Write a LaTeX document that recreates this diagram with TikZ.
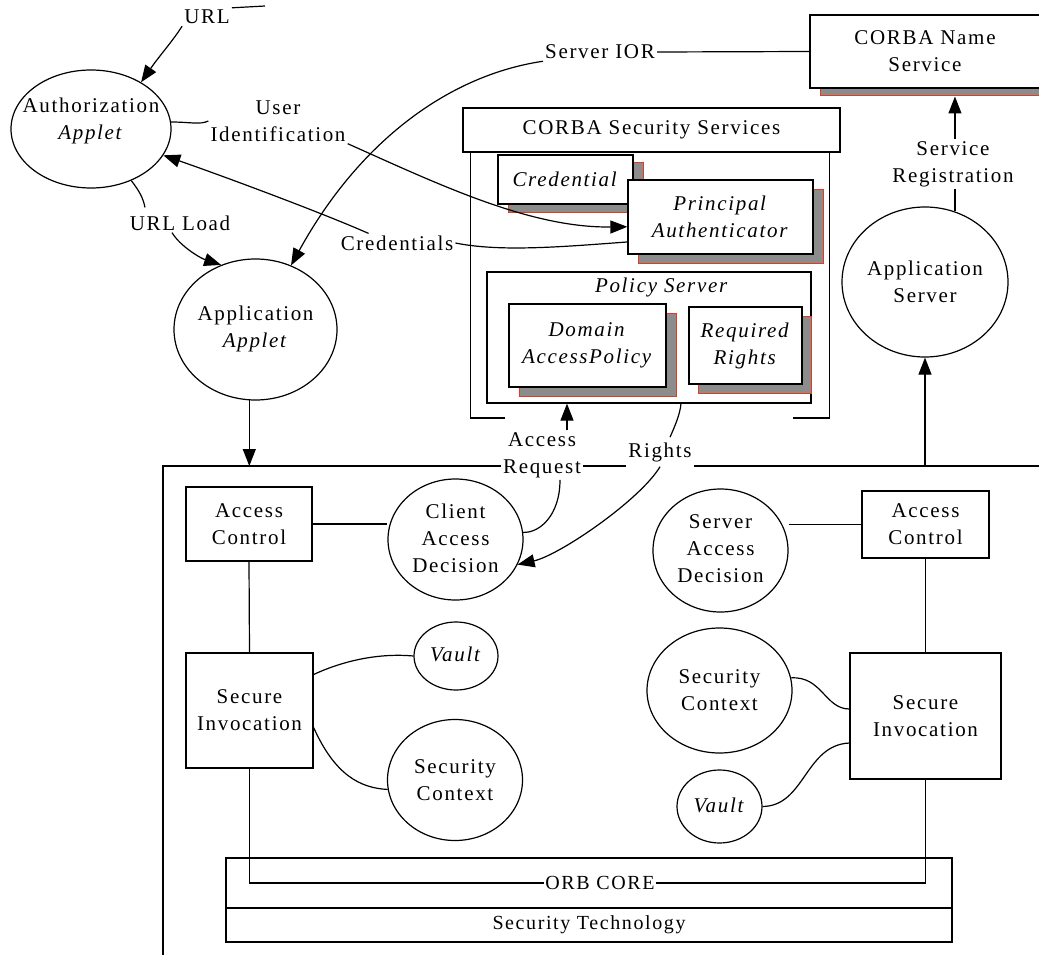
\documentclass[tikz,border=0pt]{standalone}
\usepackage{fontspec}
\setmainfont{Liberation Serif}[LetterSpace=8]
\usetikzlibrary{shapes.geometric,arrows.meta,calc}
\definecolor{shgray}{RGB}{140,140,140}
\definecolor{shred}{RGB}{225,60,30}
\tikzset{
  every node/.style={font=\fontsize{21}{27}\selectfont},
  lbl/.style={inner sep=2pt, align=center},
  wlbl/.style={lbl, fill=white},
  box/.style={draw, line width=1.2pt, fill=white, inner sep=0pt, align=center},
  shd/.style={fill=shgray, draw=shred, line width=1pt, inner sep=0pt},
  ell/.style={draw, ellipse, line width=1.2pt, inner sep=0pt},
  conn/.style={line width=1.2pt},
  arr/.style={conn, -{Triangle[length=17pt,width=13pt]}},
}
\begin{document}
\begin{tikzpicture}[x=1pt,y=-1pt]
\useasboundingbox (0,0) rectangle (1039,955);
\clip (0,0) rectangle (1039,955);

% outer frame
\coordinate (ftl) at (163,466);
\coordinate (ftr) at (1045,466);
\coordinate (fbl) at (163,962);
\draw[conn] (ftr) -- (ftl) -- (fbl);

% CORBA Name Service
\node[shd, minimum width=230pt, minimum height=73pt] (nssh) at (935,59.5) {};
\node[box, minimum width=230pt, minimum height=73pt] (ns) at (925,51.5) {CORBA Name\\Service};

% CORBA Security Services
\node[box, minimum width=377pt, minimum height=44pt] (css) at (651.5,130) {CORBA Security Services};
\coordinate (cfl) at (505,418);
\coordinate (cfr) at (793,418);
\draw[conn] (cfl) -| ($(css.south west)+(8,0)$);
\draw[conn] (cfr) -| ($(css.south east)+(-11,0)$);

\node[shd, minimum width=135pt, minimum height=49pt] (credsh) at (575.5,187.5) {};
\node[box, minimum width=135pt, minimum height=49pt] (credb) at (565.5,179.5) {\textit{Credential}};
\node[shd, minimum width=185pt, minimum height=74pt] (pash) at (730.5,226) {};
\node[box, minimum width=185pt, minimum height=74pt] (pa) at (720.5,217) {\textit{Principal}\\\textit{Authenticator}};

\node[box, minimum width=324pt, minimum height=131pt] (ps) at (649,337.5) {};
\node[lbl] (pst) at (662,287) {\textit{Policy Server}};
\node[shd, minimum width=157pt, minimum height=83pt] (dapsh) at (597.5,354.5) {};
\node[box, minimum width=157pt, minimum height=83pt] (dap) at (587.5,345.5) {\textit{Domain}\\\textit{AccessPolicy}};
\node[shd, minimum width=113pt, minimum height=77pt] (rrsh) at (754.5,354.5) {};
\node[box, minimum width=113pt, minimum height=77pt] (rr) at (745.5,345.5) {\textit{Required}\\\textit{Rights}};

% ellipses
\node[ell, minimum width=160pt, minimum height=118pt] (auth) at (91,129) {};
\node[lbl] (autht) at (91,121) {Authorization\\\textit{Applet}};
\node[ell, minimum width=163pt, minimum height=141pt] (aa) at (255.5,329.5) {};
\node[lbl] (aat) at (255.5,329) {Application\\\textit{Applet}};
\node[ell, minimum width=166pt, minimum height=150pt] (as) at (925,282) {};
\node[lbl] (ast) at (925,282) {Application\\Server};
\node[ell, minimum width=135pt, minimum height=121pt] (cad) at (455.5,539.5) {};
\node[lbl] (cadt) at (455.5,538) {Client\\Access\\Decision};
\node[ell, minimum width=135pt, minimum height=123pt] (sad) at (720.5,550.5) {};
\node[lbl] (sadt) at (720.5,549) {Server\\Access\\Decision};
\node[ell, minimum width=84pt, minimum height=68pt] (vault1) at (456,656) {};
\node[lbl] (vault1t) at (456,654) {\textit{Vault}};
\node[ell, minimum width=135pt, minimum height=121pt] (sc1) at (455,780) {};
\node[lbl] (sc1t) at (455,780) {Security\\Context};
\node[ell, minimum width=145pt, minimum height=125pt] (sc2) at (719.5,690.5) {};
\node[lbl] (sc2t) at (719.5,690.5) {Security\\Context};
\node[ell, minimum width=85pt, minimum height=73pt] (vault2) at (719.5,806.5) {};
\node[lbl] (vault2t) at (719.5,805) {\textit{Vault}};

% boxes
\node[box, minimum width=126pt, minimum height=74pt] (ac1) at (249,524) {Access\\Control};
\node[box, minimum width=127pt, minimum height=115pt] (si1) at (249.5,710.5) {Secure\\Invocation};
\node[box, minimum width=127pt, minimum height=67pt] (ac2) at (925.5,524.5) {Access\\Control};
\node[box, minimum width=151pt, minimum height=126pt] (si2) at (925.5,716) {Secure\\Invocation};

% ORB
\node[draw, line width=1.2pt, inner sep=0pt, minimum width=726pt, minimum height=50pt] (orb) at (589,883) {};
\node[box, minimum width=726pt, minimum height=34pt] (sect) at (589,925) {\fontsize{20}{24}\selectfont Security Technology};
\node[wlbl, inner xsep=1pt] (orbl) at (600,883) {\fontsize{20}{24}\selectfont ORB CORE};

% labels
\node[lbl] (url) at (207,17) {URL};
\node[lbl] (uid) at (278,121) {User\\Identification};
\node[lbl] (urll) at (180,223) {URL Load};
\node[lbl] (cred) at (397,243) {Credentials};
\node[lbl] (sior) at (600,52) {Server IOR};
\node[lbl] (sreg) at (953,164) {Service\\Registration};
\node[wlbl] (areq) at (542,455) {Access\\Request};
\node[wlbl, inner ysep=5pt] (rights) at (660,452) {Rights};

% connectors
\coordinate (urlend) at (265,6);
\draw[conn] (url.north east) -- (urlend);
\draw[arr] (url.south west) .. controls (172,42) and (160,55) .. (auth.43);

\draw[conn] (auth.5) .. controls (190,122) and (200,125) .. (uid.west);
\draw[arr] (uid.south east) .. controls (440,185) and (530,228) .. (pa.186);

\draw[conn] (pa.195) .. controls (560,247) and (500,252) .. (cred.east);
\draw[arr] ($(cred.north west)+(30,0)$) .. controls (320,212) and (220,175) .. (auth.-20);

\draw[conn] (sior.east) -- (ns.west);
\draw[arr] (sior.south west) .. controls (450,75) and (360,140) .. (aa.61);

\draw[conn] (auth.-52) .. controls (140,192) and (143,198) .. ($(urll.north)+(-35,-6)$);
\draw[arr] ($(urll.south)+(-8,0)$) .. controls (180,246) and (200,258) .. (aa.118);

\draw[arr] (aa.-95) -- (aa.-95 |- ftl);

\draw[conn] (as.67) -- (as.67 |- sreg.south);
\draw[arr] (as.67 |- sreg.north) -- (as.67 |- nssh.south);

\coordinate (arq) at ($(areq.north)+(25,0)$);
\draw[arr] (arq) -- (arq |- ps.south);
\coordinate (arq2) at ($(areq.south)+(18,0)$);
\draw[conn] (arq2) .. controls (560,515) and (540,533) .. (cad.6);

\coordinate (rt1) at ($(ps.south)+(32,0)$);
\draw[conn] (rt1) .. controls (680,415) and (674,428) .. ($(rights.north)+(10,0)$);
\draw[arr] (rights.south) .. controls (640,500) and (560,555) .. (cad.-22);

\draw[arr] (as.south |- ftl) -- (as.south);

\draw[conn] (ac1.east) -- (ac1.east -| cad.west);
\draw[conn] (ac1.south) -- (si1.north);
\draw[conn] ($(si1.east)+(0,-36)$) .. controls (345,660) and (380,653) .. (vault1.west);
\draw[conn] ($(si1.east)+(0,17)$) .. controls (335,775) and (360,788) .. (sc1.188);

\draw[conn] (ac2.west) -- (ac2.west -| sad.east);
\draw[conn] (ac2.south) -- (si2.north);
\draw[conn] (sc2.10) .. controls (822,676) and (825,709) .. ($(si2.west)+(0,-7)$);
\draw[conn] (vault2.east) .. controls (805,806) and (805,745) .. ($(si2.west)+(0,27)$);

\draw[conn] (si1.south) |- (orbl.west);
\draw[conn] (orbl.east) -| (si2.south);
\end{tikzpicture}
\end{document}
